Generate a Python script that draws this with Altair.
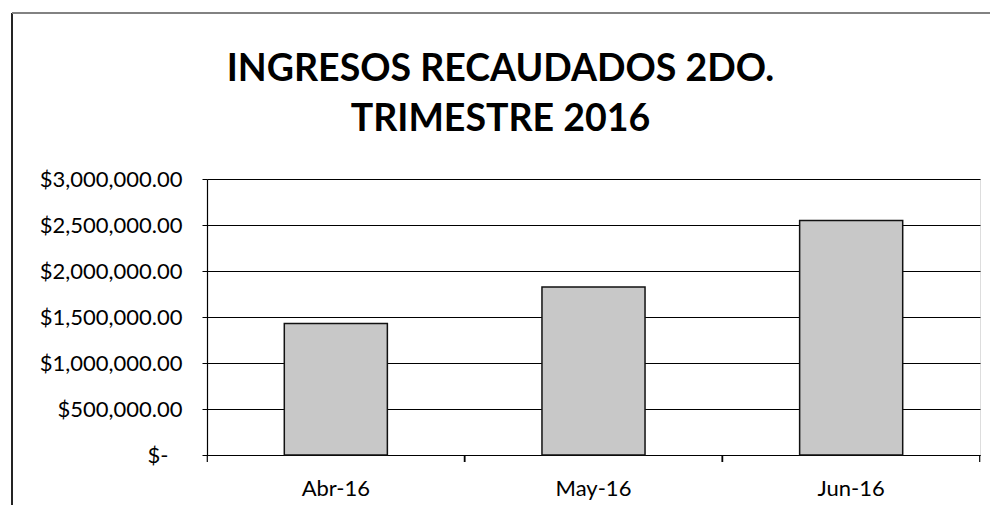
import altair as alt
import pandas as pd

months = ["Abr-16", "May-16", "Jun-16"]
ingresos = [1430000, 1825000, 2550000]
y_ticks = [0, 500000, 1000000, 1500000, 2000000, 2500000, 3000000]
title_lines = ["INGRESOS RECAUDADOS 2DO.", "TRIMESTRE 2016"]

df = pd.DataFrame({"mes": months, "ingreso": ingresos})

FONT = "Lato"

xscale = alt.Scale(paddingInner=0.6, paddingOuter=0.3)

bars = alt.Chart(df).mark_bar(
    fill="#c8c8c8", stroke="#111111", strokeWidth=1.5
).encode(
    x=alt.X("mes:N", sort=months, title=None, scale=xscale,
            axis=alt.Axis(labelAngle=0, labelFont=FONT, labelFontSize=22,
                          labelColor="#000000", labelPadding=23,
                          ticks=False,
                          domainColor="#000000", domainWidth=1.2, grid=False)),
    y=alt.Y("ingreso:Q", title=None,
            scale=alt.Scale(domain=[0, 3000000], nice=False),
            axis=alt.Axis(values=y_ticks, labelFont=FONT, labelFontSize=22,
                          labelColor="#000000",
                          labelPadding={"condition": {"test": "datum.value === 0", "value": 34},
                                        "value": 20},
                          labelExpr="datum.value == 0 ? '$-' : format(datum.value, '$,.2f')",
                          tickSize=5, tickColor="#000000",
                          domainColor="#000000", domainWidth=1.2,
                          grid=True, gridColor="#000000", gridWidth=1)),
)

# category separator ticks below the x axis (Excel style, at band boundaries)
ticks_right = alt.Chart(df).mark_rule(color="#000000", strokeWidth=1.2, xOffset=77).encode(
    x=alt.X("mes:N", sort=months, bandPosition=1),
    y=alt.value(276), y2=alt.value(283),
)
ticks_left = alt.Chart(df).mark_rule(color="#000000", strokeWidth=1.2, xOffset=-77).encode(
    x=alt.X("mes:N", sort=months, bandPosition=0),
    y=alt.value(276), y2=alt.value(283),
)

left_border = alt.Chart(df).mark_rule(color="#222222", strokeWidth=1.5).encode(
    x=alt.value(-195), y=alt.value(-166), y2=alt.value(340)
)
top_border = alt.Chart(df).mark_rule(color="#808080", strokeWidth=1.5).encode(
    x=alt.value(-195), x2=alt.value(800), y=alt.value(-166)
)

chart = alt.layer(bars, ticks_right, ticks_left, left_border, top_border).properties(
    width=773,
    height=276,
    padding={"left": 199, "top": 171, "right": 10, "bottom": 50},
    autosize=alt.AutoSizeParams(type="none"),
    title=alt.TitleParams(
        text=title_lines, font=FONT, fontSize=37.5, fontWeight="bold",
        color="#000000", anchor="middle", frame="group", dx=-93,
        offset=-156, lineHeight=50, baseline="alphabetic",
    ),
).configure_view(stroke=None).configure(background="white")

chart.save("out.html", embed_options={"renderer": "svg", "actions": False})
